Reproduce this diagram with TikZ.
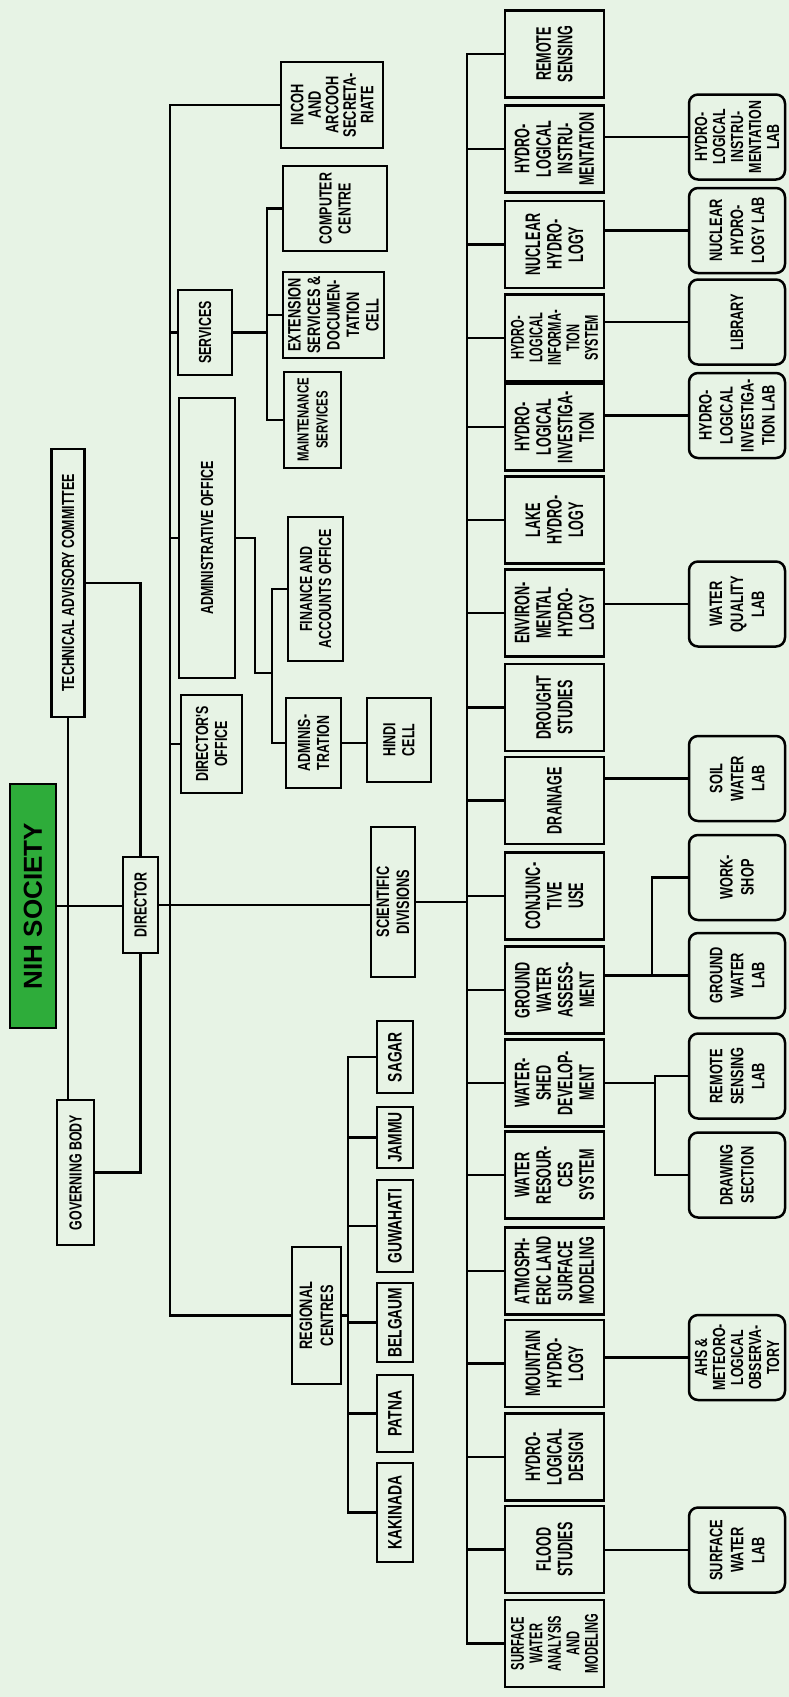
\documentclass[tikz,border=0pt]{standalone}
\usepackage{fontspec}
\setmainfont{Liberation Sans}
\newfontfamily\divfont[FakeStretch=0.6]{Liberation Sans}
\newfontfamily\offfont[FakeStretch=0.71]{Liberation Sans}
\definecolor{paper}{RGB}{231,243,229}
\definecolor{nihgreen}{RGB}{46,172,58}
\begin{document}
\begin{tikzpicture}[x=1pt, y=-1pt, line width=2.5pt,
  offbox/.style={draw,rotate=90,align=center,inner sep=0pt,font=\offfont\bfseries\fontsize{17.5}{19}\selectfont},
  divbox/.style={draw,rotate=90,align=center,inner sep=0pt,minimum width=87pt,minimum height=99pt,font=\divfont\bfseries\fontsize{21}{21.5}\selectfont},
  labbox/.style={draw,rotate=90,align=center,inner sep=0pt,rounded corners=9pt,minimum width=85pt,minimum height=96pt,font=\offfont\bfseries\fontsize{18}{21}\selectfont},
  citybox/.style={offbox,minimum height=36pt,font=\offfont\bfseries\fontsize{19.5}{20}\selectfont}]
\fill[paper] (0,0) rectangle (789,1697);
% top of the tree
\node[draw,rotate=90,fill=nihgreen,inner sep=0pt,minimum width=244pt,minimum height=46pt,font=\bfseries\fontsize{26}{26}\selectfont] (nih) at (33,906) {NIH SOCIETY};
\node[offbox,minimum width=268pt,minimum height=33pt] (tac) at (68,583) {TECHNICAL ADVISORY COMMITTEE};
\node[offbox,minimum width=145pt,minimum height=37pt] (gb) at (75.5,1172.5) {GOVERNING BODY};
\node[offbox,minimum width=96pt,minimum height=35pt] (dir) at (140.5,905) {DIRECTOR};
% administration and services
\node[offbox,minimum width=86pt,minimum height=102pt,font=\offfont\bfseries\fontsize{18}{17.5}\selectfont] (incoh) at (332,105) {INCOH\\AND\\ARCOOH\\SECRETA-\\RIATE};
\node[offbox,minimum width=85pt,minimum height=54pt] (svc) at (205,332.5) {SERVICES};
\node[offbox,minimum width=85pt,minimum height=104pt] (comp) at (335,208.5) {COMPUTER\\CENTRE};
\node[offbox,minimum width=86pt,minimum height=101pt,font=\offfont\bfseries\fontsize{18}{19.5}\selectfont] (ext) at (333.5,315) {EXTENSION\\SERVICES \&\\DOCUMEN-\\TATION\\CELL};
\node[offbox,minimum width=96pt,minimum height=57pt,font=\offfont\bfseries\fontsize{16}{19}\selectfont] (maint) at (312.5,420) {MAINTENANCE\\SERVICES};
\node[offbox,minimum width=280pt,minimum height=56pt] (aoff) at (207,538) {ADMINISTRATIVE OFFICE};
\node[offbox,minimum width=98pt,minimum height=61pt] (doff) at (211.5,744) {DIRECTOR'S\\OFFICE};
\node[offbox,minimum width=144pt,minimum height=55pt] (fin) at (315.5,589) {FINANCE AND\\ACCOUNTS OFFICE};
\node[offbox,minimum width=90pt,minimum height=55pt] (adm) at (313.5,743) {ADMINIS-\\TRATION};
\node[offbox,minimum width=84pt,minimum height=64pt] (hindi) at (399,740) {HINDI\\CELL};
\node[offbox,minimum width=150pt,minimum height=44pt,font=\offfont\bfseries\fontsize{18}{20}\selectfont] (sci) at (393,902) {SCIENTIFIC\\DIVISIONS};
% regional centres
\node[offbox,minimum width=137pt,minimum height=49pt,font=\offfont\bfseries\fontsize{18}{21}\selectfont] (reg) at (316.5,1315.5) {REGIONAL\\CENTRES};
\node[citybox,minimum width=72pt] (sagar) at (395,1057) {SAGAR};
\node[citybox,minimum width=61pt] (jammu) at (395,1137.5) {JAMMU};
\node[citybox,minimum width=92pt] (guwahati) at (395,1226) {GUWAHATI};
\node[citybox,minimum width=79pt] (belgaum) at (395,1322.5) {BELGAUM};
\node[citybox,minimum width=77pt] (patna) at (395,1413.5) {PATNA};
\node[citybox,minimum width=99pt] (kakinada) at (395,1512.5) {KAKINADA};
% scientific divisions
\node[divbox] (d1) at (554.5,54) {REMOTE\\SENSING};
\node[divbox] (d2) at (554.5,149) {HYDRO-\\LOGICAL\\INSTRU-\\MENTATION};
\node[divbox] (d3) at (554.5,244.5) {NUCLEAR\\HYDRO-\\LOGY};
\node[divbox,font=\divfont\bfseries\fontsize{18.5}{18.5}\selectfont] (d4) at (554.5,338) {HYDRO-\\LOGICAL\\INFORMA-\\TION\\SYSTEM};
\node[divbox] (d5) at (554.5,427) {HYDRO-\\LOGICAL\\INVESTIGA-\\TION};
\node[divbox] (d6) at (554.5,520) {LAKE\\HYDRO-\\LOGY};
\node[divbox] (d7) at (554.5,613) {ENVIRON-\\MENTAL\\HYDRO-\\LOGY};
\node[divbox] (d8) at (554.5,707.5) {DROUGHT\\STUDIES};
\node[divbox] (d9) at (554.5,800.5) {DRAINAGE};
\node[divbox] (d10) at (554.5,896) {CONJUNC-\\TIVE\\USE};
\node[divbox] (d11) at (554.5,990) {GROUND\\WATER\\ASSESS-\\MENT};
\node[divbox] (d12) at (554.5,1083) {WATER-\\SHED\\DEVELOP-\\MENT};
\node[divbox] (d13) at (554.5,1175) {WATER\\RESOUR-\\CES\\SYSTEM};
\node[divbox] (d14) at (554.5,1271) {ATMOSPH-\\ERIC LAND\\SURFACE\\MODELING};
\node[divbox] (d15) at (554.5,1363.5) {MOUNTAIN\\HYDRO-\\LOGY};
\node[divbox] (d16) at (554.5,1457) {HYDRO-\\LOGICAL\\DESIGN};
\node[divbox] (d17) at (554.5,1549.5) {FLOOD\\STUDIES};
\node[divbox,font=\divfont\bfseries\fontsize{18.5}{18.5}\selectfont] (d18) at (554.5,1643.5) {SURFACE\\WATER\\ANALYSIS\\AND\\MODELING};
% laboratories
\node[labbox,font=\offfont\bfseries\fontsize{17.5}{18}\selectfont] (instlab) at (737,137) {HYDRO-\\LOGICAL\\INSTRU-\\MENTATION\\LAB};
\node[labbox] (nuclab) at (737,230.5) {NUCLEAR\\HYDRO-\\LOGY LAB};
\node[labbox] (library) at (737,322) {LIBRARY};
\node[labbox] (invlab) at (737,415.5) {HYDRO-\\LOGICAL\\INVESTIGA-\\TION LAB};
\node[labbox] (wqlab) at (737,604) {WATER\\QUALITY\\LAB};
\node[labbox] (soillab) at (737,778.5) {SOIL\\WATER\\LAB};
\node[labbox] (wshop) at (737,877.5) {WORK-\\SHOP};
\node[labbox] (gwlab) at (737,975.5) {GROUND\\WATER\\LAB};
\node[labbox] (rslab) at (737,1076) {REMOTE\\SENSING\\LAB};
\node[labbox] (dsec) at (737,1175) {DRAWING\\SECTION};
\node[labbox,font=\offfont\bfseries\fontsize{17.5}{18}\selectfont] (ahs) at (737,1357.5) {AHS \&\\METEORO-\\LOGICAL\\OBSERVA-\\TORY};
\node[labbox] (swlab) at (737,1550) {SURFACE\\WATER\\LAB};
% branch points
\coordinate (atrunk) at (170,0);
\coordinate (sbr) at (267,0);
\coordinate (abr) at (255,673);
\coordinate (fbr) at (272,0);
\coordinate (rbr) at (348,0);
\coordinate (strunk) at (467,0);
\coordinate (gbr) at (652,0);
\coordinate (wbr) at (655,0);
% governing lines
\draw (nih.south) -- (nih.south -| dir.north);
\draw (tac.west) -- (tac.west |- gb.east);
\draw (tac.south) -| (dir.east);
\draw (gb.south) -| (dir.west);
\draw (dir.south) -- (dir.south -| sci.north);
% administration
\draw (incoh.north) -- (incoh.north -| atrunk) -- (atrunk |- reg.north) -- (reg.north);
\draw (atrunk |- svc.north) -- (svc.north);
\draw (atrunk |- aoff.north) -- (aoff.north);
\draw (atrunk |- doff.north) -- (doff.north);
\draw (svc.south) -- (svc.south -| sbr);
\draw (comp.north) -| (sbr |- maint.north) -- (maint.north);
\draw (ext.north) -- (ext.north -| sbr);
\draw (aoff.south) -| (abr) -- (abr -| fbr);
\draw (fin.north) -| (fbr |- adm.north) -- (adm.north);
\draw (adm.south) -- (adm.south -| hindi.north);
% regional centres
\draw (reg.south) -- (reg.south -| rbr);
\draw (sagar.north) -| (rbr |- kakinada.north) -- (kakinada.north);
\draw (jammu.north) -- (jammu.north -| rbr); \draw (guwahati.north) -- (guwahati.north -| rbr);
\draw (belgaum.north) -- (belgaum.north -| rbr); \draw (patna.north) -- (patna.north -| rbr);
% scientific divisions
\draw (sci.south) -- (sci.south -| strunk);
\draw (d1.north) -| (strunk |- d18.north) -- (d18.north);
\draw (d2.north) -- (d2.north -| strunk); \draw (d3.north) -- (d3.north -| strunk);
\draw (d4.north) -- (d4.north -| strunk); \draw (d5.north) -- (d5.north -| strunk);
\draw (d6.north) -- (d6.north -| strunk); \draw (d7.north) -- (d7.north -| strunk);
\draw (d8.north) -- (d8.north -| strunk); \draw (d9.north) -- (d9.north -| strunk);
\draw (d10.north) -- (d10.north -| strunk); \draw (d11.north) -- (d11.north -| strunk);
\draw (d12.north) -- (d12.north -| strunk); \draw (d13.north) -- (d13.north -| strunk);
\draw (d14.north) -- (d14.north -| strunk); \draw (d15.north) -- (d15.north -| strunk);
\draw (d16.north) -- (d16.north -| strunk); \draw (d17.north) -- (d17.north -| strunk);
% laboratories
\draw (instlab.north) -- (instlab.north -| d2.south);
\draw (nuclab.north) -- (nuclab.north -| d3.south);
\draw (library.north) -- (library.north -| d4.south);
\draw (invlab.north) -- (invlab.north -| d5.south);
\draw (wqlab.north) -- (wqlab.north -| d7.south);
\draw (soillab.north) -- (soillab.north -| d9.south);
\draw (gwlab.north) -- (gwlab.north -| d11.south);
\draw (gwlab.north -| gbr) |- (wshop.north);
\draw (d12.south) -- (d12.south -| wbr);
\draw (rslab.north) -| (wbr |- dsec.north) -- (dsec.north);
\draw (ahs.north) -- (ahs.north -| d15.south);
\draw (swlab.north) -- (swlab.north -| d17.south);
\end{tikzpicture}
\end{document}
